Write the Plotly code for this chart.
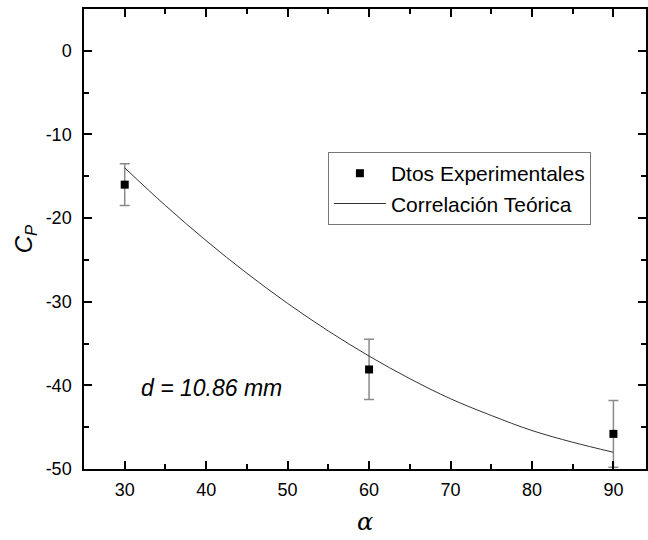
import plotly.graph_objects as go

# Experimental data
alpha_exp = [30, 60, 90]
cp_exp = [-16.0, -38.1, -45.8]
cp_err = [2.5, 3.6, 4.0]

# Theoretical correlation curve
alpha_th = [30, 35, 40, 45, 50, 55, 60, 65, 70, 75, 80, 85, 90]
cp_th = [-14.0, -18.5, -22.7, -26.6, -30.2, -33.5, -36.5, -39.2, -41.6, -43.6, -45.4, -46.8, -48.0]

# Tick labels
y_tickvals = [0, -10, -20, -30, -40, -50]
y_ticktext = ["0", "-10", "-20", "-30", "-40", "-50"]
x_tickvals = [30, 40, 50, 60, 70, 80, 90]
x_ticktext = ["30", "40", "50", "60", "70", "80", "90"]

fig = go.Figure()

fig.add_trace(go.Scatter(
    x=alpha_exp, y=cp_exp, mode="markers", name="Dtos Experimentales",
    marker=dict(symbol="square", size=8, color="black"),
    error_y=dict(type="data", array=cp_err, visible=True, color="#8a8a8a", thickness=1.5, width=5),
))
fig.add_trace(go.Scatter(
    x=alpha_th, y=cp_th, mode="lines", name="Correlación Teórica",
    line=dict(color="#333333", width=1, shape="spline"),
))

axis_common = dict(
    showline=True, linecolor="black", linewidth=1.5, mirror="ticks",
    ticks="inside", ticklen=8, tickwidth=1.5, tickcolor="black",
    showgrid=False, zeroline=False,
    tickfont=dict(family="Liberation Sans, Arial", size=18, color="black"),
)

fig.update_xaxes(
    range=[25, 94], tickvals=x_tickvals, ticktext=x_ticktext,
    minor=dict(ticks="inside", ticklen=5, tickwidth=1.5, dtick=5, tick0=30, tickcolor="black"),
    ticklabelstandoff=4,
    title=dict(text="<i>α</i>", font=dict(family="DejaVu Serif, Liberation Serif", size=24, color="black"), standoff=14),
    **axis_common,
)
fig.update_yaxes(
    range=[-50, 5], tickvals=y_tickvals, ticktext=y_ticktext,
    minor=dict(ticks="inside", ticklen=5, tickwidth=1.5, dtick=5, tick0=0, tickcolor="black"),
    ticklabelstandoff=7,
    title=dict(text="<i>C</i><sub><i>P</i></sub>", font=dict(family="Liberation Sans, Arial", size=24, color="black"), standoff=6),
    **axis_common,
)

fig.add_annotation(
    x=40.7, y=-40.3, xref="x", yref="y", text="<i>d = 10.86 mm</i>", showarrow=False,
    font=dict(family="Liberation Sans, Arial", size=23, color="black"),
)

fig.update_layout(
    width=648, height=540,
    margin=dict(l=84, r=0, t=9, b=71),
    paper_bgcolor="white", plot_bgcolor="white",
    showlegend=True,
    legend=dict(
        x=0.434, y=0.689, xanchor="left", yanchor="top",
        bgcolor="white", bordercolor="#777777", borderwidth=1,
        font=dict(family="Liberation Sans, Arial", size=21, color="black"),
        tracegroupgap=0, itemwidth=52,
    ),
)

fig.write_html("out.html", config={"displayModeBar": False},
               post_script="document.body.style.margin='0px';")
